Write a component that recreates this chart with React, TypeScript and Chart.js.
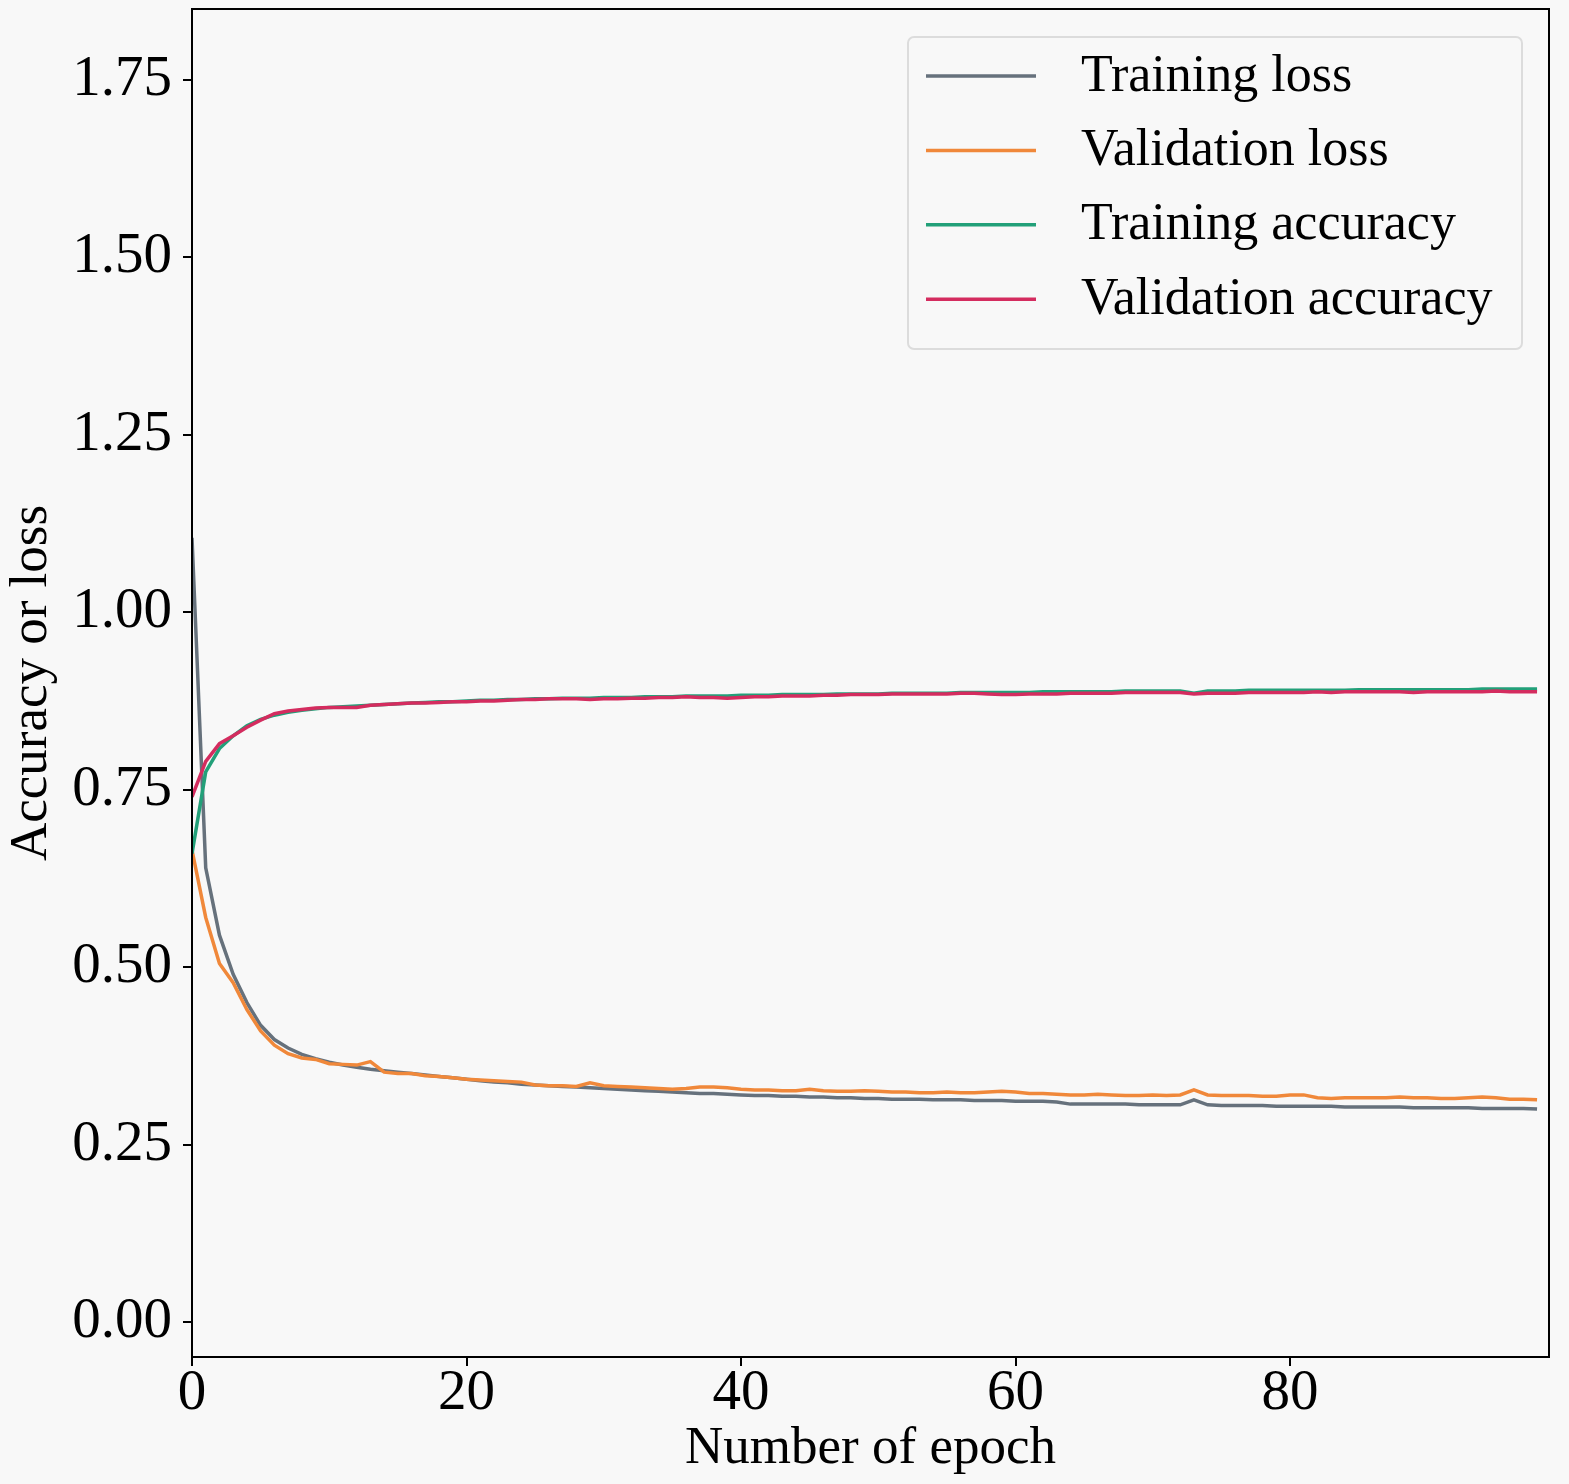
import { useEffect, useRef } from "react";
import { Chart, registerables } from "chart.js";
import type { Plugin } from "chart.js";

Chart.register(...registerables);

const FONT = '"Liberation Serif", "Times New Roman", serif';

const seriesLabels = ["Training loss", "Validation loss", "Training accuracy", "Validation accuracy"];

const trainLoss = [
  1.105, 0.64, 0.545, 0.49, 0.45, 0.418, 0.398, 0.386, 0.377, 0.371,
  0.366, 0.362, 0.359, 0.356, 0.354, 0.352, 0.35, 0.348, 0.346, 0.344,
  0.342, 0.34, 0.338, 0.337, 0.335, 0.334, 0.333, 0.332, 0.331, 0.33,
  0.329, 0.328, 0.327, 0.326, 0.325, 0.324, 0.323, 0.322, 0.322, 0.321,
  0.32, 0.319, 0.319, 0.318, 0.318, 0.317, 0.317, 0.316, 0.316, 0.315,
  0.315, 0.314, 0.314, 0.314, 0.313, 0.313, 0.313, 0.312, 0.312, 0.312,
  0.311, 0.311, 0.311, 0.31, 0.307, 0.307, 0.307, 0.307, 0.307, 0.306,
  0.306, 0.306, 0.306, 0.313, 0.306, 0.305, 0.305, 0.305, 0.305, 0.304,
  0.304, 0.304, 0.304, 0.304, 0.303, 0.303, 0.303, 0.303, 0.303, 0.302,
  0.302, 0.302, 0.302, 0.302, 0.301, 0.301, 0.301, 0.301, 0.3,
];

const valLoss = [
  0.665, 0.57, 0.505, 0.478, 0.44, 0.41, 0.39, 0.378, 0.372, 0.37,
  0.364, 0.363, 0.362, 0.367, 0.352, 0.35, 0.35, 0.347, 0.346, 0.344,
  0.342, 0.341, 0.34, 0.339, 0.338, 0.334, 0.333, 0.333, 0.332, 0.337,
  0.333, 0.332, 0.331, 0.33, 0.329, 0.328, 0.329, 0.331, 0.331, 0.33,
  0.328, 0.327, 0.327, 0.326, 0.326, 0.328, 0.326, 0.325, 0.325, 0.326,
  0.325, 0.324, 0.324, 0.323, 0.323, 0.324, 0.323, 0.323, 0.324, 0.325,
  0.324, 0.322, 0.322, 0.321, 0.32, 0.32, 0.321, 0.32, 0.319, 0.319,
  0.32, 0.319, 0.32, 0.327, 0.32, 0.319, 0.319, 0.319, 0.318, 0.318,
  0.32, 0.32, 0.316, 0.315, 0.316, 0.316, 0.316, 0.316, 0.317, 0.316,
  0.316, 0.315, 0.315, 0.316, 0.317, 0.316, 0.314, 0.314, 0.313,
];

const trainAcc = [
  0.66, 0.775, 0.808, 0.826, 0.84, 0.849, 0.855, 0.859, 0.862, 0.864,
  0.866, 0.867, 0.868, 0.869, 0.87, 0.871, 0.872, 0.873, 0.874, 0.874,
  0.875, 0.876, 0.876, 0.877, 0.877, 0.878, 0.878, 0.879, 0.879, 0.879,
  0.88, 0.88, 0.88, 0.881, 0.881, 0.881, 0.882, 0.882, 0.882, 0.882,
  0.883, 0.883, 0.883, 0.884, 0.884, 0.884, 0.884, 0.885, 0.885, 0.885,
  0.885, 0.886, 0.886, 0.886, 0.886, 0.886, 0.887, 0.887, 0.887, 0.887,
  0.887, 0.887, 0.888, 0.888, 0.888, 0.888, 0.888, 0.888, 0.889, 0.889,
  0.889, 0.889, 0.889, 0.886, 0.889, 0.889, 0.889, 0.89, 0.89, 0.89,
  0.89, 0.89, 0.89, 0.89, 0.89, 0.891, 0.891, 0.891, 0.891, 0.891,
  0.891, 0.891, 0.891, 0.891, 0.892, 0.892, 0.892, 0.892, 0.892,
];

const valAcc = [
  0.74, 0.79, 0.815, 0.826, 0.838, 0.848, 0.857, 0.861, 0.863, 0.865,
  0.866, 0.866, 0.866, 0.869, 0.87, 0.871, 0.872, 0.872, 0.873, 0.874,
  0.874, 0.875, 0.875, 0.876, 0.877, 0.877, 0.878, 0.878, 0.878, 0.877,
  0.878, 0.878, 0.879, 0.879, 0.88, 0.88, 0.881, 0.88, 0.88, 0.879,
  0.88, 0.881, 0.881, 0.882, 0.882, 0.882, 0.883, 0.883, 0.884, 0.884,
  0.884, 0.885, 0.885, 0.885, 0.885, 0.885, 0.886, 0.886, 0.885, 0.884,
  0.884, 0.885, 0.885, 0.885, 0.886, 0.886, 0.886, 0.886, 0.887, 0.887,
  0.887, 0.887, 0.887, 0.885, 0.886, 0.886, 0.886, 0.887, 0.887, 0.887,
  0.887, 0.887, 0.888, 0.887, 0.888, 0.888, 0.888, 0.888, 0.888, 0.887,
  0.888, 0.888, 0.888, 0.888, 0.888, 0.889, 0.888, 0.888, 0.888,
];

const epochs = trainLoss.map((_, i) => i);
const xTicks = [0, 20, 40, 60, 80];
const yTicks = [0, 0.25, 0.5, 0.75, 1.0, 1.25, 1.5, 1.75];

const BG = "#f8f8f8";

const backgroundPlugin: Plugin = {
  id: "bg",
  beforeDraw(chart) {
    const { ctx, width, height } = chart;
    ctx.save();
    ctx.fillStyle = BG;
    ctx.fillRect(0, 0, width, height);
    ctx.restore();
  },
};

const framePlugin: Plugin = {
  id: "frame",
  afterDatasetsDraw(chart) {
    const { ctx, chartArea: a } = chart;
    ctx.save();
    ctx.strokeStyle = "#000";
    ctx.lineWidth = 2;
    ctx.strokeRect(a.left, a.top, a.right - a.left, a.bottom - a.top);
    ctx.restore();
  },
};

// matplotlib-style boxed legend in the upper right corner
const boxLegendPlugin: Plugin = {
  id: "boxLegend",
  afterDraw(chart) {
    const { ctx, chartArea: a } = chart;
    const w = 614;
    const h = 312;
    const x0 = a.right - 27 - w;
    const y0 = a.top + 28;
    ctx.save();
    ctx.beginPath();
    ctx.roundRect(x0, y0, w, h, 6);
    ctx.fillStyle = "rgba(248,248,248,0.85)";
    ctx.fill();
    ctx.strokeStyle = "#dcdcdc";
    ctx.lineWidth = 2;
    ctx.stroke();
    ctx.font = `52px ${FONT}`;
    ctx.textBaseline = "middle";
    ctx.textAlign = "left";
    chart.data.datasets.forEach((ds, i) => {
      const cy = y0 + 39 + i * 74.4;
      ctx.beginPath();
      ctx.moveTo(x0 + 18, cy);
      ctx.lineTo(x0 + 128, cy);
      ctx.strokeStyle = ds.borderColor as string;
      ctx.lineWidth = 3.5;
      ctx.stroke();
      ctx.fillStyle = "#000";
      ctx.fillText(ds.label ?? "", x0 + 173, cy + 1);
    });
    ctx.restore();
  },
};

export default function App() {
  const canvasRef = useRef<HTMLCanvasElement | null>(null);

  useEffect(() => {
    document.body.style.margin = "0";
    document.body.style.background = BG;
    const canvas = canvasRef.current;
    if (!canvas) return;

    const series = [trainLoss, valLoss, trainAcc, valAcc];
    const colors = ["#66717c", "#f0883a", "#22a079", "#d42c5f"];

    const chart = new Chart(canvas, {
      type: "line",
      data: {
        datasets: series.map((values, i) => ({
          label: seriesLabels[i],
          data: values.map((v, j) => ({ x: epochs[j], y: v })),
          borderColor: colors[i],
          backgroundColor: colors[i],
          borderWidth: 3.5,
          pointRadius: 0,
          tension: 0,
          fill: false,
          order: series.length - i,
        })),
      },
      options: {
        animation: false,
        responsive: true,
        maintainAspectRatio: false,
        layout: { autoPadding: false, padding: { left: 0, top: 9, right: 20, bottom: 0 } },
        plugins: {
          legend: { display: false },
          tooltip: { enabled: false },
        },
        scales: {
          x: {
            type: "linear",
            min: 0,
            max: 98.87,
            afterBuildTicks: (s) => {
              s.ticks = xTicks.map((v) => ({ value: v }));
            },
            afterFit: (s) => {
              s.height = 127;
              s.paddingLeft = 0;
              s.paddingRight = 0;
            },
            grid: {
              drawOnChartArea: false,
              drawTicks: true,
              tickLength: 9,
              color: "#000",
              lineWidth: 2,
            },
            border: { display: false },
            ticks: {
              color: "#000",
              padding: 0,
              maxRotation: 0,
              font: { family: FONT, size: 57, lineHeight: 1 },
            },
            title: {
              display: true,
              text: "Number of epoch",
              color: "#000",
              font: { family: FONT, size: 53 },
              padding: { top: 0, bottom: 3 },
            },
          },
          y: {
            type: "linear",
            min: -0.0493,
            max: 1.85,
            afterBuildTicks: (s) => {
              s.ticks = yTicks.map((v) => ({ value: v }));
            },
            afterFit: (s) => {
              s.width = 192;
              s.paddingTop = 0;
              s.paddingBottom = 0;
            },
            grid: {
              drawOnChartArea: false,
              drawTicks: true,
              tickLength: 9,
              color: "#000",
              lineWidth: 2,
            },
            border: { display: false },
            ticks: {
              color: "#000",
              padding: 11,
              font: { family: FONT, size: 57 },
              callback: (v) => Number(v).toFixed(2),
            },
            title: {
              display: true,
              text: "Accuracy or loss",
              color: "#000",
              font: { family: FONT, size: 53 },
              padding: { top: 0, bottom: 0 },
            },
          },
        },
      },
      plugins: [backgroundPlugin, framePlugin, boxLegendPlugin],
    });

    return () => {
      chart.destroy();
    };
  }, []);

  return (
    <div style={{ position: "absolute", left: 0, top: 0, width: 1569, height: 1484 }}>
      <canvas ref={canvasRef} />
    </div>
  );
}
